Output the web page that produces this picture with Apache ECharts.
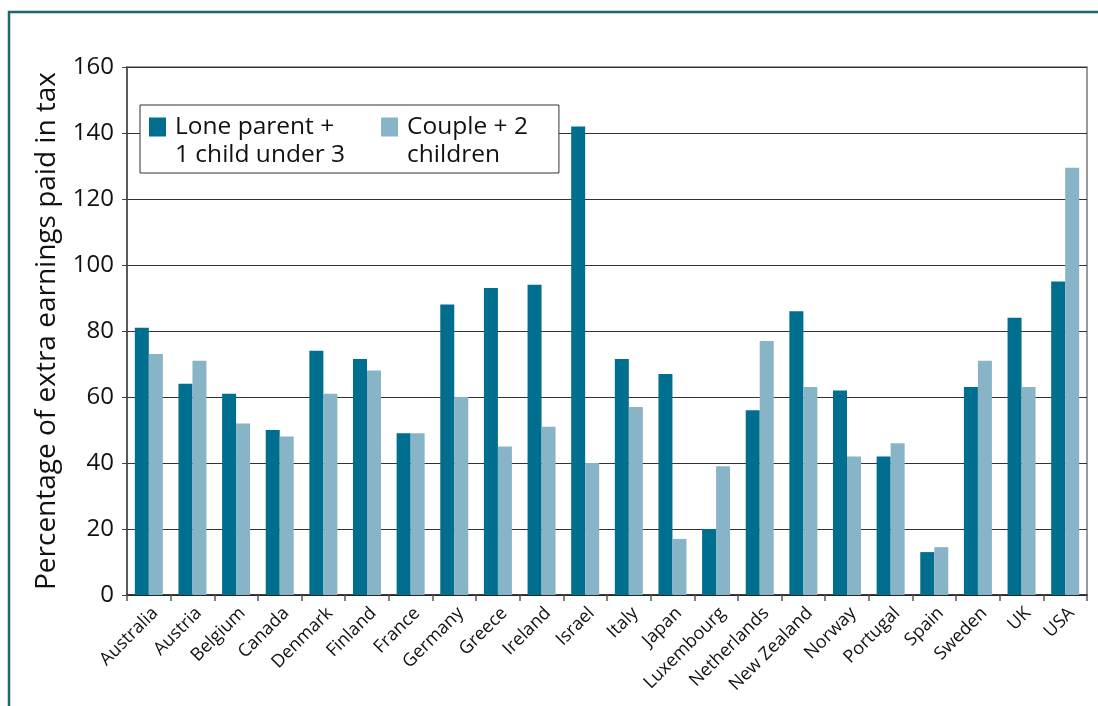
<!DOCTYPE html>
<html>
<head>
<meta charset="utf-8">
<script src="https://cdn.jsdelivr.net/npm/echarts@6/dist/echarts.min.js"></script>
<style>
html,body{margin:0;padding:0;background:#fff;}
#chart{width:1098px;height:706px;}
</style>
</head>
<body>
<div id="chart"></div>
<script>
const countries = ['Australia','Austria','Belgium','Canada','Denmark','Finland','France','Germany','Greece','Ireland','Israel','Italy','Japan','Luxembourg','Netherlands','New Zealand','Norway','Portugal','Spain','Sweden','UK','USA'];
const loneParent = [81,64,61,50,74,71.5,49,88,93,94,142,71.5,67,20,56,86,62,42,13,63,84,95];
const couple = [73,71,52,48,61,68,49,60,45,51,40,57,17,39,77,63,42,46,14.5,71,63,129.5];
const seriesNames = ['Lone parent +\n1 child under 3','Couple + 2\nchildren'];
const yTicks = {min:0, max:160, interval:20};
const yAxisTitle = 'Percentage of extra earnings paid in tax';

const FONT = '"Open Sans", "Noto Sans", sans-serif';
const chart = echarts.init(document.getElementById('chart'), null, {renderer:'canvas'});
const legendIcon = 'path://M0,0L17,0L17,19L0,19ZM0,47';
chart.setOption({
  animation:false,
  backgroundColor:'#fff',
  graphic:[{
    type:'rect', silent:true, z:-1,
    shape:{x:9, y:12, width:1200, height:800},
    style:{fill:'none', stroke:'#1b6870', lineWidth:2.5}
  }],
  grid:{left:127, right:11, top:67, bottom:111, show:true, borderColor:'#7a7a7a', borderWidth:1.5, backgroundColor:'transparent'},
  legend:{
    left:140, top:105,
    orient:'horizontal',
    backgroundColor:'#fff',
    borderColor:'#333', borderWidth:1,
    padding:[8,31,4,9],
    itemWidth:17, itemHeight:47,
    itemGap:36,
    icon:legendIcon,
    textStyle:{fontFamily:FONT, fontSize:24.5, color:'#111', lineHeight:28, padding:[0,0,0,4]},
    data:seriesNames
  },
  xAxis:{
    type:'category', data:countries,
    axisLine:{lineStyle:{color:'#222', width:1.5}},
    axisTick:{show:true, length:6, lineStyle:{color:'#555', width:1.5}},
    axisLabel:{rotate:45, fontFamily:FONT, fontSize:18, color:'#111', margin:9, interval:0, verticalAlign:'top'},
    splitLine:{show:false}
  },
  yAxis:{
    type:'value', min:yTicks.min, max:yTicks.max, interval:yTicks.interval,
    name:yAxisTitle, nameLocation:'middle', nameGap:66,
    nameTextStyle:{fontFamily:FONT, fontSize:28, color:'#111'},
    axisLine:{show:true, lineStyle:{color:'#444', width:1.5}},
    axisTick:{show:true, length:5, lineStyle:{color:'#444'}},
    axisLabel:{fontFamily:FONT, fontSize:24, color:'#111', margin:13},
    splitLine:{show:true, lineStyle:{color:'#333', width:1.2}}
  },
  series:[
    {name:seriesNames[0], type:'bar', data:loneParent, barWidth:14, barGap:'0%', itemStyle:{color:'#006e8f'}},
    {name:seriesNames[1], type:'bar', data:couple, barWidth:14, barGap:'0%', itemStyle:{color:'#87b4c6'}}
  ]
});
</script>
</body>
</html>
